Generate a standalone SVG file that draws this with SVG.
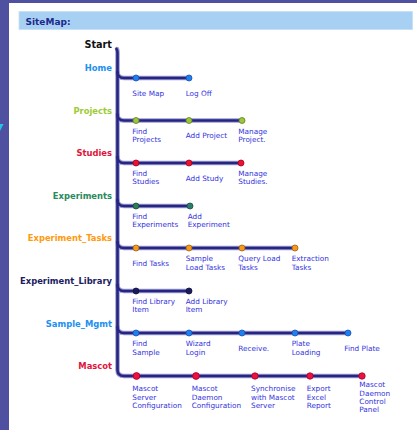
<svg xmlns="http://www.w3.org/2000/svg" width="417" height="430" viewBox="0 0 417 430">
<style>
.cat{font-family:"DejaVu Sans",Verdana,sans-serif;font-weight:bold;font-size:8.4px;text-anchor:end}
.lbl{font-family:"DejaVu Sans",Verdana,sans-serif;font-size:7.3px;fill:#3333dd}
.halo{fill:none;stroke:#9a9ad0;stroke-width:4.5;stroke-linecap:round}
.line{fill:none;stroke:#262682;stroke-width:2.6;stroke-linecap:round}
.dot{stroke-width:0.8}
</style>
<rect width="417" height="430" fill="#ffffff"/>
<rect x="0" y="0" width="417" height="3" fill="#5050a0"/>
<rect x="0" y="0" width="9" height="430" fill="#5050a0"/>
<polygon points="0,124 3.5,124 0,131" fill="#22c4e8"/>
<g id="header">
<rect x="19" y="11.5" width="393.5" height="18" fill="#a8d0f2" stroke="#c4e0f8" stroke-width="0.8"/>
<text x="25.5" y="25" font-family="'DejaVu Sans',Verdana,sans-serif" font-weight="bold" font-size="9px" fill="#1c2a8c">SiteMap:</text>
</g>
<g id="connectors">
<g class="halo-set">
<path class="halo" d="M117,49 Q117.5,50 117.5,53 L117.5,370 Q117.5,376 124,376 L362,376"/>
<path class="halo" d="M117.5,72 Q117.5,78 124,78 L189,78"/>
<path class="halo" d="M117.5,114.5 Q117.5,120.5 124,120.5 L242,120.5"/>
<path class="halo" d="M117.5,157 Q117.5,163 124,163 L241,163"/>
<path class="halo" d="M117.5,200 Q117.5,206 124,206 L190,206"/>
<path class="halo" d="M117.5,242 Q117.5,248 124,248 L295,248"/>
<path class="halo" d="M117.5,285 Q117.5,291 124,291 L189,291"/>
<path class="halo" d="M117.5,327 Q117.5,333 124,333 L348,333"/>
</g>
<path class="line" d="M116.5,49 Q117.5,50 117.5,53 L117.5,370 Q117.5,376 124,376 L362,376"/>
<path class="line" d="M117.5,72 Q117.5,78 124,78 L189,78"/>
<path class="line" d="M117.5,114.5 Q117.5,120.5 124,120.5 L242,120.5"/>
<path class="line" d="M117.5,157 Q117.5,163 124,163 L241,163"/>
<path class="line" d="M117.5,200 Q117.5,206 124,206 L190,206"/>
<path class="line" d="M117.5,242 Q117.5,248 124,248 L295,248"/>
<path class="line" d="M117.5,285 Q117.5,291 124,291 L189,291"/>
<path class="line" d="M117.5,327 Q117.5,333 124,333 L348,333"/>
</g>
<g id="start"><text x="112" y="47.5" font-family="'DejaVu Sans',Verdana,sans-serif" font-weight="bold" font-size="9.7px" text-anchor="end" fill="#111111">Start</text></g>

<g id="home">
<text class="cat" x="112" y="71" fill="#2290f0">Home</text>
<g id="site-map"><circle class="dot" cx="136" cy="78" r="3" fill="#1e80ee" stroke="#1a50b0"/><text class="lbl" x="132.3" y="95.5">Site Map</text></g>
<g id="log-off"><circle class="dot" cx="189" cy="78" r="3" fill="#1e80ee" stroke="#1a50b0"/><text class="lbl" x="185.7" y="95.5">Log Off</text></g>
</g>

<g id="projects">
<text class="cat" x="112" y="113.5" fill="#9ccc33">Projects</text>
<g id="find-projects"><circle class="dot" cx="136" cy="120.5" r="3" fill="#9cc63a" stroke="#5f7f20"/><text class="lbl" x="132.3" y="133.5">Find</text><text class="lbl" x="132.3" y="142">Projects</text></g>
<g id="add-project"><circle class="dot" cx="189" cy="120.5" r="3" fill="#9cc63a" stroke="#5f7f20"/><text class="lbl" x="185.7" y="138">Add Project</text></g>
<g id="manage-project"><circle class="dot" cx="242" cy="120.5" r="3" fill="#9cc63a" stroke="#5f7f20"/><text class="lbl" x="238.3" y="134">Manage</text><text class="lbl" x="238.3" y="142.3">Project.</text></g>
</g>

<g id="studies">
<text class="cat" x="112" y="156" fill="#e0143c">Studies</text>
<g id="find-studies"><circle class="dot" cx="136" cy="163" r="3" fill="#ee1030" stroke="#a00020"/><text class="lbl" x="132.3" y="176.3">Find</text><text class="lbl" x="132.3" y="184.3">Studies</text></g>
<g id="add-study"><circle class="dot" cx="189" cy="163" r="3" fill="#ee1030" stroke="#a00020"/><text class="lbl" x="185.7" y="180.5">Add Study</text></g>
<g id="manage-studies"><circle class="dot" cx="241" cy="163" r="3" fill="#ee1030" stroke="#a00020"/><text class="lbl" x="238.3" y="176.3">Manage</text><text class="lbl" x="238.3" y="184.3">Studies.</text></g>
</g>

<g id="experiments">
<text class="cat" x="112" y="199" fill="#2a8a5c">Experiments</text>
<g id="find-experiments"><circle class="dot" cx="136" cy="206" r="3" fill="#2a7f5a" stroke="#1a4a3a"/><text class="lbl" x="132.3" y="218.5">Find</text><text class="lbl" x="132.3" y="227">Experiments</text></g>
<g id="add-experiment"><circle class="dot" cx="190" cy="206" r="3" fill="#2a7f6a" stroke="#1a4a4a"/><text class="lbl" x="187.7" y="218.5">Add</text><text class="lbl" x="187.7" y="227">Experiment</text></g>
</g>

<g id="experiment-tasks">
<text class="cat" x="112" y="241" fill="#ff9a10">Experiment_Tasks</text>
<g id="find-tasks"><circle class="dot" cx="136" cy="248" r="3" fill="#f59a1a" stroke="#a06010"/><text class="lbl" x="132.3" y="265.5">Find Tasks</text></g>
<g id="sample-load-tasks"><circle class="dot" cx="189" cy="248" r="3" fill="#f59a1a" stroke="#a06010"/><text class="lbl" x="185.7" y="261">Sample</text><text class="lbl" x="185.7" y="269.5">Load Tasks</text></g>
<g id="query-load-tasks"><circle class="dot" cx="242" cy="248" r="3" fill="#f59a1a" stroke="#a06010"/><text class="lbl" x="238.3" y="261">Query Load</text><text class="lbl" x="238.3" y="269.5">Tasks</text></g>
<g id="extraction-tasks"><circle class="dot" cx="295" cy="248" r="3" fill="#f59a1a" stroke="#a06010"/><text class="lbl" x="291.7" y="261">Extraction</text><text class="lbl" x="291.7" y="269.5">Tasks</text></g>
</g>

<g id="experiment-library">
<text class="cat" x="112" y="284" fill="#1c1c60">Experiment_Library</text>
<g id="find-library-item"><circle class="dot" cx="136" cy="291" r="3" fill="#1a1a5e" stroke="#10103a"/><text class="lbl" x="132.3" y="304">Find Library</text><text class="lbl" x="132.3" y="312.3">Item</text></g>
<g id="add-library-item"><circle class="dot" cx="189" cy="291" r="3" fill="#1a1a5e" stroke="#10103a"/><text class="lbl" x="185.7" y="304">Add Library</text><text class="lbl" x="185.7" y="312.3">Item</text></g>
</g>

<g id="sample-mgmt">
<text class="cat" x="112" y="326.5" fill="#2290f0">Sample_Mgmt</text>
<g id="find-sample"><circle class="dot" cx="136" cy="333" r="3" fill="#1e80ee" stroke="#1a50b0"/><text class="lbl" x="132.3" y="346.3">Find</text><text class="lbl" x="132.3" y="354.6">Sample</text></g>
<g id="wizard-login"><circle class="dot" cx="189" cy="333" r="3" fill="#1e80ee" stroke="#1a50b0"/><text class="lbl" x="185.7" y="346.3">Wizard</text><text class="lbl" x="185.7" y="354.6">Login</text></g>
<g id="receive"><circle class="dot" cx="242" cy="333" r="3" fill="#1e80ee" stroke="#1a50b0"/><text class="lbl" x="238.3" y="351">Receive.</text></g>
<g id="plate-loading"><circle class="dot" cx="295" cy="333" r="3" fill="#1e80ee" stroke="#1a50b0"/><text class="lbl" x="291.7" y="346.3">Plate</text><text class="lbl" x="291.7" y="354.6">Loading</text></g>
<g id="find-plate"><circle class="dot" cx="348" cy="333" r="3" fill="#1e80ee" stroke="#1a50b0"/><text class="lbl" x="344.3" y="351">Find Plate</text></g>
</g>

<g id="mascot">
<text class="cat" x="112" y="368.5" fill="#e0143c">Mascot</text>
<g id="mascot-server-configuration"><circle class="dot" cx="136.5" cy="376" r="3.4" fill="#ee1040" stroke="#a00028"/><text class="lbl" x="132.3" y="391.3">Mascot</text><text class="lbl" x="132.3" y="399.6">Server</text><text class="lbl" x="132.3" y="407.7">Configuration</text></g>
<g id="mascot-daemon-configuration"><circle class="dot" cx="196" cy="376" r="3.4" fill="#ee1040" stroke="#a00028"/><text class="lbl" x="191.7" y="391.3">Mascot</text><text class="lbl" x="191.7" y="399.6">Daemon</text><text class="lbl" x="191.7" y="407.7">Configuration</text></g>
<g id="synchronise"><circle class="dot" cx="255" cy="376" r="3.2" fill="#ee1040" stroke="#a00028"/><text class="lbl" x="251" y="391.3">Synchronise</text><text class="lbl" x="251" y="399.6">with Mascot</text><text class="lbl" x="251" y="407.7">Server</text></g>
<g id="export-excel-report"><circle class="dot" cx="310" cy="376" r="3.2" fill="#ee1040" stroke="#a00028"/><text class="lbl" x="306.7" y="391.3">Export</text><text class="lbl" x="306.7" y="399.6">Excel</text><text class="lbl" x="306.7" y="407.7">Report</text></g>
<g id="mascot-daemon-control-panel"><circle class="dot" cx="362" cy="376" r="3.2" fill="#ee1040" stroke="#a00028"/><text class="lbl" x="359.3" y="387.3" font-size="6.8px">Mascot</text><text class="lbl" x="359.3" y="395.6" font-size="6.8px">Daemon</text><text class="lbl" x="359.3" y="403.6" font-size="6.8px">Control</text><text class="lbl" x="359.3" y="411.6" font-size="6.8px">Panel</text></g>
</g>
</svg>
